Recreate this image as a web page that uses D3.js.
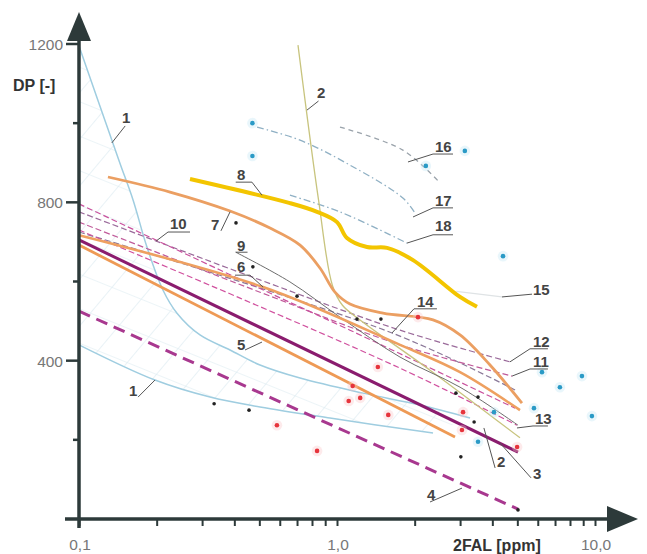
<!DOCTYPE html>
<html>
<head>
<meta charset="utf-8">
<script src="https://cdnjs.cloudflare.com/ajax/libs/d3/7.8.5/d3.min.js"></script>
<style>
body { margin: 0; background: #fff; }
svg { font-family: "Liberation Sans", Arial, sans-serif; }
</style>
</head>
<body>
<svg width="647" height="554"></svg>
<script>
// axis values
var yMajor = [400, 800, 1200];
var yMinor = [200, 600, 1000];
var xLabels = [[0.1, "0,1"], [1, "1,0"], [10, "10,0"]];

// curves, [2FAL ppm, DP]
var curve1a = [[0.1,1195],[0.1206,1043],[0.1441,899],[0.162,806],[0.1834,687],[0.2117,578],[0.2398,520],[0.2944,465],[0.385,427],[0.503,389],[0.719,356],[1.261,318],[2.098,288],[3.278,255]];
var curve1b = [[0.1,440],[0.197,351],[0.322,308],[0.503,283],[0.939,255],[2.356,217]];
var curve2 = [[0.706,1197],[0.848,806],[0.96,590],[1.05,540],[1.228,503],[2.294,376],[5.12,205]];
var curve3 = [[0.1,705],[5.03,169]];
var curve4 = [[0.1,525],[5.03,25]];
var curve5 = [[0.1,692],[2.867,207]];
var curve6 = [[0.1,717],[0.517,586],[1.755,440],[2.998,371],[5.12,275]];
var curve7 = [[0.1295,864],[0.2253,826],[0.385,778],[0.55,735],[0.719,692],[0.859,634],[0.982,573],[1.123,543],[1.508,520],[2.356,503],[2.998,465],[3.918,389],[5.21,293]];
var curve8 = [[0.2693,859],[0.657,798],[0.837,776],[1.0,750],[1.093,710],[1.307,687],[1.563,685],[1.971,654],[2.998,561],[3.488,536]];
var curve9 = [[0.405,674],[0.657,599],[1.027,510],[1.755,409],[2.998,333],[5.03,237]];
var curve10 = [[0.1,796],[0.352,629],[1.123,477],[4.9,280]];
var curve11 = [[0.1,750],[0.503,573],[1.755,440],[4.77,361]];
var curve12 = [[0.1,776],[0.503,604],[1.755,477],[4.683,397]];
var curve13 = [[0.1,730],[0.421,558],[1.755,381],[4.985,237]];
var curve14 = [[0.1,725],[1.634,470],[4.9,326]];
var curve15 = [[2.9,575],[4.36,561]];
var curve16 = [[1.027,990],[1.8,932],[2.507,849]];
var curve17 = [[0.49,990],[0.719,957],[1.123,894],[1.8,811],[2.006,773]];
var curve18 = [[0.657,818],[1.027,776],[1.867,697]];

// measured samples
var blackPts = [[0.406,748],[0.472,637],[0.70,563],[1.195,505],[1.48,505],[2.89,318],[3.4,245],[3.02,157],[0.334,291],[0.456,275],[3.52,308],[5.03,23]];
var redPts = [[2.06,510],[1.44,384],[1.15,336],[1.23,306],[1.11,298],[1.58,263],[0.585,237],[0.837,172],[3.08,270],[3.05,225],[4.99,182]];
var bluePts = [[0.47,1000],[0.47,917],[2.21,892],[3.13,930],[4.4,664],[6.23,371],[7.31,333],[8.9,361],[9.73,260],[5.8,280],[4.06,270],[3.52,195]];

// curve labels: text position and leader line
var labelText = ["1","1","2","2","3","4","5","6","7","8","9","10","11","12","13","14","15","16","17","18"];
var labelPos = [[0.1468,1000],[0.1562,311],[0.837,1064],[4.17,131],[5.75,101],[2.233,48],[0.4097,427],[0.4097,624],[0.3249,730],[0.4097,856],[0.4097,677],[0.2253,733],[5.75,384],[5.75,435],[5.85,240],[2.042,536],[5.75,566],[2.398,927],[2.398,791],[2.398,728]];
var labelLeader = [
  [[0.151,993],[0.134,950]],
  [[0.1694,308],[0.197,351]],
  [[0.848,1056],[0.765,1033]],
  [[4.1,129],[3.71,230]],
  [[5.65,104],[4.284,192]],
  [[2.294,43],[3.05,78]],
  [[0.44,427],[0.512,447]],
  [[0.4024,616],[0.46,616],[0.517,586]],
  [[0.355,728],[0.385,776]],
  [[0.405,851],[0.468,851],[0.512,818]],
  [[0.405,674],[0.45,674]],
  [[0.2693,725],[0.2213,725],[0.1988,702]],
  [[4.77,361],[5.6,379],[6.57,379]],
  [[4.683,397],[5.6,430],[6.57,430]],
  [[4.985,230],[5.75,235],[6.57,235]],
  [[1.634,470],[1.988,531],[2.44,531]],
  [[4.36,561],[5.7,568]],
  [[1.884,902],[2.356,922],[2.816,922]],
  [[1.971,763],[2.356,786],[2.816,786]],
  [[1.867,697],[2.356,718],[2.816,718]]
];

var svg = d3.select("svg");
var x = d3.scaleLog().domain([0.1, 10]).range([79, 595]);
var y = d3.scaleLinear().domain([0, 1200]).range([519, 44]);
var axisColor = "#2d3a3a";

var smooth = d3.line().x(function(d){ return x(d[0]); }).y(function(d){ return y(d[1]); }).curve(d3.curveCatmullRom.alpha(0.5));
var straight = d3.line().x(function(d){ return x(d[0]); }).y(function(d){ return y(d[1]); });

// hatched zone between the two curves 1
var defs = svg.append("defs");
defs.append("pattern").attr("id", "hA").attr("patternUnits", "userSpaceOnUse")
  .attr("width", 30).attr("height", 30).attr("patternTransform", "rotate(40)")
  .append("line").attr("x1", 0).attr("y1", 0).attr("x2", 0).attr("y2", 30)
  .attr("stroke", "#d6e8ee").attr("stroke-width", 1.1);
defs.append("pattern").attr("id", "hB").attr("patternUnits", "userSpaceOnUse")
  .attr("width", 32).attr("height", 32).attr("patternTransform", "rotate(22)")
  .append("line").attr("x1", 0).attr("y1", 0).attr("x2", 32).attr("y2", 0)
  .attr("stroke", "#dcebf0").attr("stroke-width", 1.1);
var zone = curve1a.concat(curve1b.slice().reverse());
svg.append("path").attr("d", straight(zone) + "Z").attr("fill", "url(#hA)");
svg.append("path").attr("d", straight(zone) + "Z").attr("fill", "url(#hB)");

var series = [
  {d: curve1a, c: "#9fcde0", w: 1.5},
  {d: curve1b, c: "#9fcde0", w: 1.5},
  {d: curve15, c: "#dfe3e5", w: 1.2},
  {d: curve16, c: "#9aa3ab", w: 1.3, dash: "5,4"},
  {d: curve17, c: "#8fb0c4", w: 1.3, dash: "7,3,1.5,3"},
  {d: curve18, c: "#8fb0c4", w: 1.3, dash: "7,3,1.5,3"},
  {d: curve14, c: "#8a7898", w: 1.2, dash: "6,3"},
  {d: curve12, c: "#9a6a9a", w: 1.2, dash: "6,3"},
  {d: curve11, c: "#c05a9a", w: 1.2, dash: "6,3"},
  {d: curve10, c: "#c9509d", w: 1.2, dash: "6,3"},
  {d: curve13, c: "#d0509e", w: 1.2, dash: "6,3"},
  {d: curve2, c: "#c8c47e", w: 1.3},
  {d: curve9, c: "#6d6d6d", w: 1},
  {d: curve4, c: "#a8388f", w: 3, dash: "12,7"},
  {d: curve5, c: "#ee9a55", w: 2.8},
  {d: curve3, c: "#8a1c6e", w: 3},
  {d: curve6, c: "#eea060", w: 2.5},
  {d: curve7, c: "#eb9f62", w: 2.8},
  {d: curve8, c: "#f3c500", w: 4}
];

svg.append("g").selectAll("path").data(series).enter().append("path")
  .attr("d", function(s){ return smooth(s.d); })
  .attr("fill", "none")
  .attr("stroke", function(s){ return s.c; })
  .attr("stroke-width", function(s){ return s.w; })
  .attr("stroke-dasharray", function(s){ return s.dash || null; })
  .attr("stroke-linecap", "butt");

// points
function dots(data, col, r, halo) {
  var g = svg.append("g");
  if (halo) {
    g.selectAll(".h").data(data).enter().append("circle")
      .attr("cx", function(d){ return x(d[0]); }).attr("cy", function(d){ return y(d[1]); })
      .attr("r", r + 3).attr("fill", halo).attr("opacity", 0.35);
  }
  g.selectAll(".p").data(data).enter().append("circle")
    .attr("cx", function(d){ return x(d[0]); }).attr("cy", function(d){ return y(d[1]); })
    .attr("r", r).attr("fill", col);
}
dots(bluePts, "#2a9ac6", 2.3, "#bfe6f4");
dots(redPts, "#e6343c", 2.3, "#f8c4c6");
dots(blackPts, "#222", 1.8, null);

// labels and leaders
var lab = svg.append("g");
lab.selectAll("path").data(labelLeader).enter().append("path")
  .attr("d", function(d){ return straight(d); })
  .attr("fill", "none").attr("stroke", "#555").attr("stroke-width", 1);
lab.selectAll("text").data(labelText).enter().append("text")
  .attr("x", function(d, i){ return x(labelPos[i][0]); })
  .attr("y", function(d, i){ return y(labelPos[i][1]); })
  .attr("font-size", "15px").attr("font-weight", "bold").attr("fill", "#444")
  .text(function(d){ return d; });

// axes
var x0 = x(0.1), y0 = y(0);
var ticksG = svg.append("g").attr("transform", "translate(0," + y0 + ")")
  .call(d3.axisBottom(x).tickValues(x.ticks()).tickSize(7).tickFormat(""));
ticksG.select(".domain").remove();
ticksG.selectAll("line").attr("stroke", axisColor).attr("stroke-width", 2);

svg.append("g").selectAll("line").data(yMajor).enter().append("line")
  .attr("x1", x0 - 13).attr("x2", x0).attr("y1", function(d){ return y(d); }).attr("y2", function(d){ return y(d); })
  .attr("stroke", axisColor).attr("stroke-width", 2.5);
svg.append("g").selectAll("line").data(yMinor).enter().append("line")
  .attr("x1", x0 - 6).attr("x2", x0).attr("y1", function(d){ return y(d); }).attr("y2", function(d){ return y(d); })
  .attr("stroke", axisColor).attr("stroke-width", 2.5);

svg.append("line").attr("x1", x0).attr("x2", x0).attr("y1", y(1200) - 6).attr("y2", y0 + 9)
  .attr("stroke", axisColor).attr("stroke-width", 3.5);
svg.append("line").attr("x1", x0 - 14).attr("x2", 612).attr("y1", y0).attr("y2", y0)
  .attr("stroke", axisColor).attr("stroke-width", 3.5);
svg.append("path").attr("d", "M" + x0 + ",12L" + (x0 - 12) + ",41L" + (x0 + 12) + ",41Z").attr("fill", axisColor);
svg.append("path").attr("d", "M638," + y0 + "L607," + (y0 - 13) + "L607," + (y0 + 13) + "Z").attr("fill", axisColor);

svg.append("g").selectAll("text").data(yMajor).enter().append("text")
  .attr("x", x0 - 16).attr("y", function(d){ return y(d) + 6; })
  .attr("text-anchor", "end").attr("font-size", "15.5px").attr("fill", "#777")
  .text(function(d){ return d; });
svg.append("g").selectAll("text").data(xLabels).enter().append("text")
  .attr("x", function(d){ return x(d[0]) + 1; }).attr("y", 550)
  .attr("text-anchor", "middle").attr("font-size", "15.5px").attr("fill", "#777")
  .text(function(d){ return d[1]; });

svg.append("text").attr("x", 13).attr("y", 91).attr("font-size", "16px").attr("font-weight", "bold")
  .attr("fill", "#333").text("DP [-]");
svg.append("text").attr("x", 453).attr("y", 551).attr("font-size", "16px").attr("font-weight", "bold")
  .attr("fill", "#333").text("2FAL [ppm]");
</script>
</body>
</html>
